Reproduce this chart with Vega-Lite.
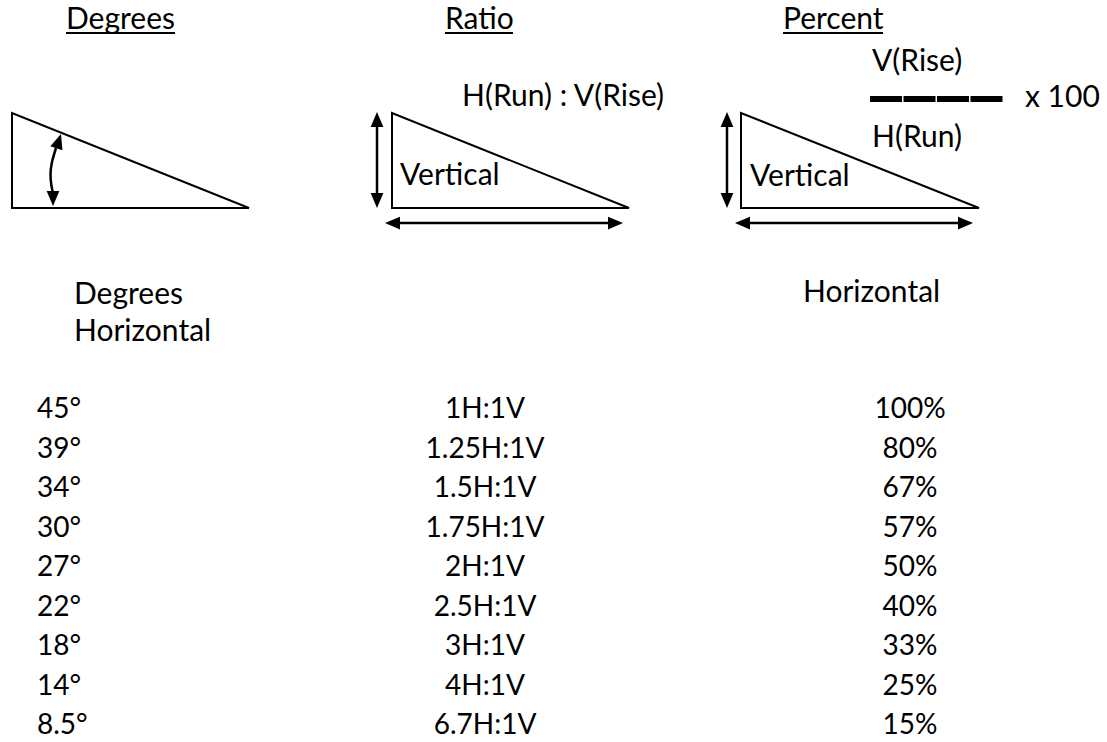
{
  "$schema": "https://vega.github.io/schema/vega-lite/v6.json",
  "width": 1107,
  "height": 742,
  "padding": 0,
  "autosize": {"type": "fit", "contains": "padding"},
  "background": "white",
  "config": {"view": {"stroke": null}, "text": {"font": "Lato", "color": "black"}},
  "datasets": {
    "triangles": [
      {"shape": "deg", "i": 1, "x": 12, "y": 160}, {"shape": "deg", "i": 2, "x": 12, "y": 208}, {"shape": "deg", "i": 3, "x": 249, "y": 208}, {"shape": "deg", "i": 4, "x": 12, "y": 113}, {"shape": "deg", "i": 5, "x": 12, "y": 160},
      {"shape": "ratio", "i": 1, "x": 392, "y": 160}, {"shape": "ratio", "i": 2, "x": 392, "y": 208}, {"shape": "ratio", "i": 3, "x": 629, "y": 208}, {"shape": "ratio", "i": 4, "x": 392, "y": 113}, {"shape": "ratio", "i": 5, "x": 392, "y": 160},
      {"shape": "pct", "i": 1, "x": 741, "y": 160}, {"shape": "pct", "i": 2, "x": 741, "y": 208}, {"shape": "pct", "i": 3, "x": 979, "y": 208}, {"shape": "pct", "i": 4, "x": 741, "y": 113}, {"shape": "pct", "i": 5, "x": 741, "y": 160}
    ],
    "curve": [
      {"i": 1, "x": 56, "y": 148}, {"i": 2, "x": 52, "y": 162}, {"i": 3, "x": 50.5, "y": 175}, {"i": 4, "x": 51.5, "y": 186}, {"i": 5, "x": 53, "y": 193}
    ],
    "shafts": [
      {"x": 377, "y": 120, "x2": 377, "y2": 200},
      {"x": 393, "y": 223, "x2": 615, "y2": 223},
      {"x": 727, "y": 120, "x2": 727, "y2": 200},
      {"x": 743, "y": 223, "x2": 965, "y2": 223}
    ],
    "heads": [
      {"dir": "upright", "x": 61, "y": 134}, {"dir": "down", "x": 53, "y": 206},
      {"dir": "up", "x": 377, "y": 112}, {"dir": "down", "x": 377, "y": 208},
      {"dir": "left", "x": 385, "y": 223}, {"dir": "right", "x": 623, "y": 223},
      {"dir": "up", "x": 727, "y": 112}, {"dir": "down", "x": 727, "y": 208},
      {"dir": "left", "x": 735, "y": 223}, {"dir": "right", "x": 973, "y": 223}
    ],
    "labels": [
      {"x": 66, "y": 20, "text": "Degrees"},
      {"x": 445, "y": 20, "text": "Ratio"},
      {"x": 783, "y": 20, "text": "Percent"},
      {"x": 462, "y": 97, "text": "H(Run) : V(Rise)"},
      {"x": 400, "y": 176, "text": "Vertical"},
      {"x": 750, "y": 177, "text": "Vertical"},
      {"x": 872, "y": 62, "text": "V(Rise)"},
      {"x": 872, "y": 138, "text": "H(Run)"},
      {"x": 1025, "y": 98, "text": "x 100"},
      {"x": 74, "y": 295, "text": "Degrees"},
      {"x": 74, "y": 332, "text": "Horizontal"},
      {"x": 803, "y": 293, "text": "Horizontal"}
    ],
    "underlines": [
      {"x": 66, "x2": 175, "y": 33},
      {"x": 445, "x2": 513, "y": 33},
      {"x": 783, "x2": 883, "y": 33}
    ],
    "bar": [{"x": 870, "x2": 1003, "y": 99}],
    "table": [
      {"row": 1, "deg": "45°", "ratio": "1H:1V", "pct": "100%"},
      {"row": 2, "deg": "39°", "ratio": "1.25H:1V", "pct": "80%"},
      {"row": 3, "deg": "34°", "ratio": "1.5H:1V", "pct": "67%"},
      {"row": 4, "deg": "30°", "ratio": "1.75H:1V", "pct": "57%"},
      {"row": 5, "deg": "27°", "ratio": "2H:1V", "pct": "50%"},
      {"row": 6, "deg": "22°", "ratio": "2.5H:1V", "pct": "40%"},
      {"row": 7, "deg": "18°", "ratio": "3H:1V", "pct": "33%"},
      {"row": 8, "deg": "14°", "ratio": "4H:1V", "pct": "25%"},
      {"row": 9, "deg": "8.5°", "ratio": "6.7H:1V", "pct": "15%"}
    ]
  },
  "resolve": {"scale": {"y": "independent"}},
  "layer": [
    {
      "data": {"name": "triangles"},
      "mark": {"type": "line", "color": "black", "strokeWidth": 2, "strokeJoin": "miter"},
      "encoding": {
        "x": {"field": "x", "type": "quantitative", "scale": {"domain": [0, 1107], "nice": false, "zero": false}, "axis": null},
        "y": {"field": "y", "type": "quantitative", "scale": {"domain": [0, 742], "nice": false, "zero": false, "reverse": true}, "axis": null},
        "detail": {"field": "shape"},
        "order": {"field": "i", "type": "quantitative"}
      }
    },
    {
      "data": {"name": "curve"},
      "mark": {"type": "line", "color": "black", "strokeWidth": 2.5, "interpolate": "natural"},
      "encoding": {
        "x": {"field": "x", "type": "quantitative", "scale": {"domain": [0, 1107], "nice": false, "zero": false}, "axis": null},
        "y": {"field": "y", "type": "quantitative", "scale": {"domain": [0, 742], "nice": false, "zero": false, "reverse": true}, "axis": null},
        "order": {"field": "i", "type": "quantitative"}
      }
    },
    {
      "data": {"name": "shafts"},
      "mark": {"type": "rule", "color": "black", "strokeWidth": 2.5},
      "encoding": {
        "x": {"field": "x", "type": "quantitative", "scale": {"domain": [0, 1107], "nice": false, "zero": false}, "axis": null},
        "y": {"field": "y", "type": "quantitative", "scale": {"domain": [0, 742], "nice": false, "zero": false, "reverse": true}, "axis": null},
        "x2": {"field": "x2"},
        "y2": {"field": "y2"}
      }
    },
    {
      "data": {"name": "heads"},
      "mark": {"type": "point", "filled": true, "color": "black", "opacity": 1, "size": 225, "strokeWidth": 0},
      "encoding": {
        "x": {"field": "x", "type": "quantitative", "scale": {"domain": [0, 1107], "nice": false, "zero": false}, "axis": null},
        "y": {"field": "y", "type": "quantitative", "scale": {"domain": [0, 742], "nice": false, "zero": false, "reverse": true}, "axis": null},
        "shape": {
          "field": "dir", "type": "nominal", "legend": null,
          "scale": {
            "domain": ["up", "down", "left", "right", "upright"],
            "range": ["M0,0L0.85,2L-0.85,2Z", "M0,0L0.85,-2L-0.85,-2Z", "M0,0L2,-0.85L2,0.85Z", "M0,0L-2,-0.85L-2,0.85Z", "M0,0L0.19,2.165L-1.426,1.639Z"]
          }
        }
      }
    },
    {
      "data": {"name": "underlines"},
      "mark": {"type": "rule", "color": "black", "strokeWidth": 2},
      "encoding": {
        "x": {"field": "x", "type": "quantitative", "scale": {"domain": [0, 1107], "nice": false, "zero": false}, "axis": null},
        "y": {"field": "y", "type": "quantitative", "scale": {"domain": [0, 742], "nice": false, "zero": false, "reverse": true}, "axis": null},
        "x2": {"field": "x2"}
      }
    },
    {
      "data": {"name": "bar"},
      "mark": {"type": "rule", "color": "black", "strokeWidth": 6, "strokeDash": [32, 1.5]},
      "encoding": {
        "x": {"field": "x", "type": "quantitative", "scale": {"domain": [0, 1107], "nice": false, "zero": false}, "axis": null},
        "y": {"field": "y", "type": "quantitative", "scale": {"domain": [0, 742], "nice": false, "zero": false, "reverse": true}, "axis": null},
        "x2": {"field": "x2"}
      }
    },
    {
      "data": {"name": "labels"},
      "mark": {"type": "text", "align": "left", "baseline": "middle", "fontSize": 30},
      "encoding": {
        "x": {"field": "x", "type": "quantitative", "scale": {"domain": [0, 1107], "nice": false, "zero": false}, "axis": null},
        "y": {"field": "y", "type": "quantitative", "scale": {"domain": [0, 742], "nice": false, "zero": false, "reverse": true}, "axis": null},
        "text": {"field": "text"}
      }
    },
    {
      "data": {"name": "table"},
      "mark": {"type": "text", "align": "left", "baseline": "middle", "fontSize": 28},
      "encoding": {
        "x": {"datum": 37, "type": "quantitative", "scale": {"domain": [0, 1107], "nice": false, "zero": false}, "axis": null},
        "y": {"field": "row", "type": "quantitative", "scale": {"domain": [-9.38, 9.405], "nice": false, "zero": false, "reverse": true}, "axis": null},
        "text": {"field": "deg"}
      }
    },
    {
      "data": {"name": "table"},
      "mark": {"type": "text", "align": "center", "baseline": "middle", "fontSize": 28},
      "encoding": {
        "x": {"datum": 485, "type": "quantitative", "scale": {"domain": [0, 1107], "nice": false, "zero": false}, "axis": null},
        "y": {"field": "row", "type": "quantitative", "scale": {"domain": [-9.38, 9.405], "nice": false, "zero": false, "reverse": true}, "axis": null},
        "text": {"field": "ratio"}
      }
    },
    {
      "data": {"name": "table"},
      "mark": {"type": "text", "align": "center", "baseline": "middle", "fontSize": 28},
      "encoding": {
        "x": {"datum": 910, "type": "quantitative", "scale": {"domain": [0, 1107], "nice": false, "zero": false}, "axis": null},
        "y": {"field": "row", "type": "quantitative", "scale": {"domain": [-9.38, 9.405], "nice": false, "zero": false, "reverse": true}, "axis": null},
        "text": {"field": "pct"}
      }
    }
  ]
}
